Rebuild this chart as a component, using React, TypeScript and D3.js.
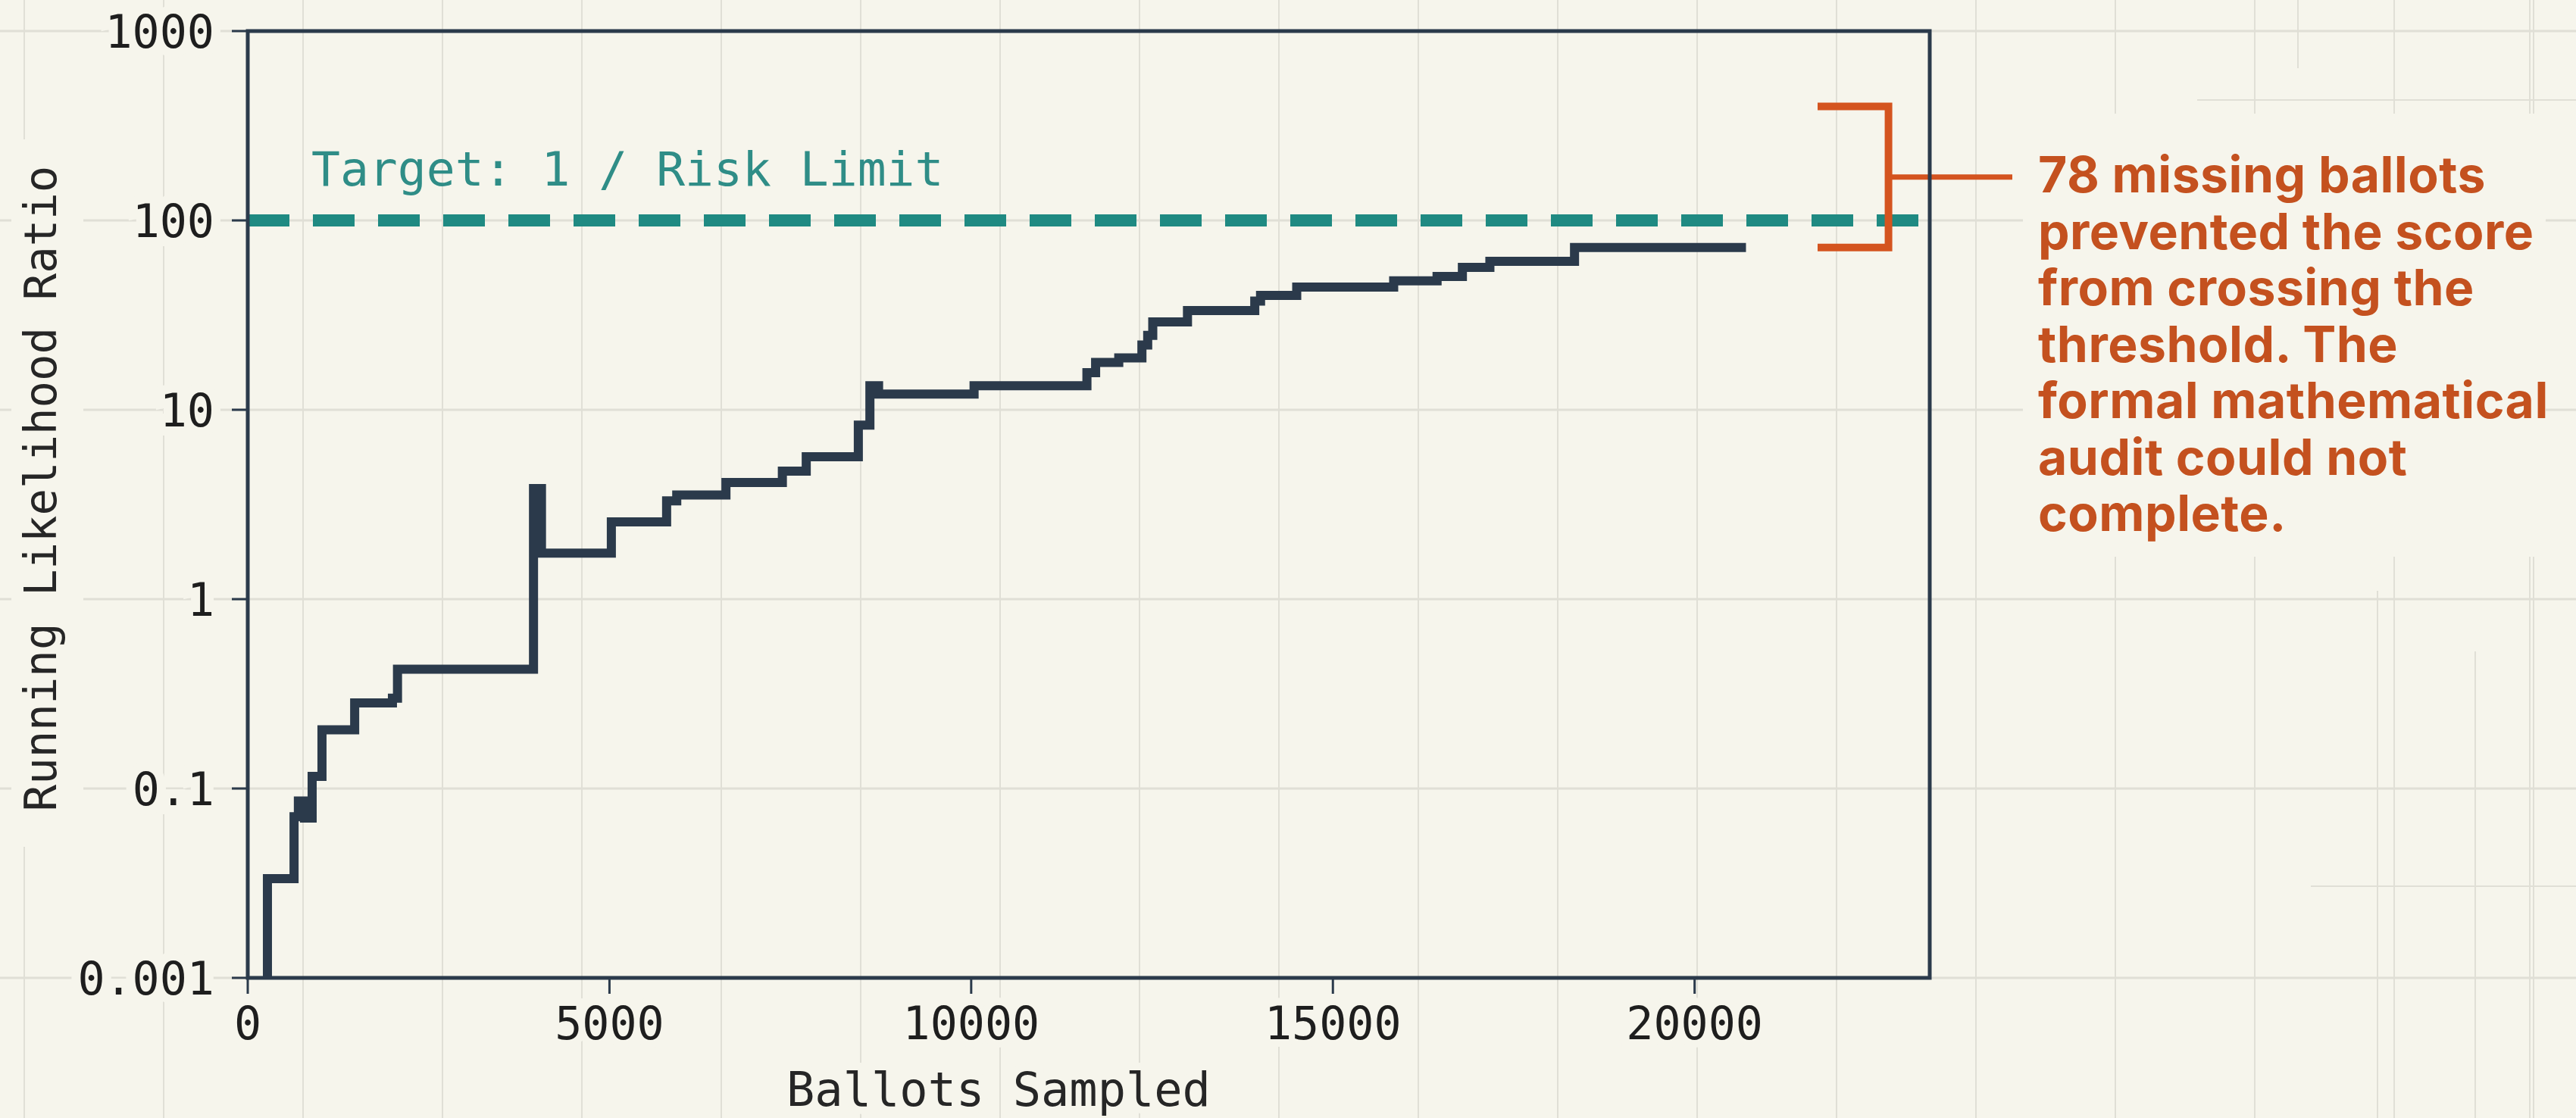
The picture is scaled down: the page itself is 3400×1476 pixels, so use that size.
import * as d3 from "d3";

// running likelihood ratio (value holds from that ballot on)
const ballots = [272, 272, 640, 700, 785, 890, 1026, 1478, 2000, 2070, 3950, 4060, 5026, 5790, 5930, 6610, 7390, 7720, 8440, 8600, 8720, 10040, 11600, 11720, 12040, 12360, 12440, 12510, 12990, 13920, 14000, 14500, 15840, 16440, 16790, 17170, 18340, 20710];
const ratio = [0.01, 0.0334, 0.071, 0.086, 0.0698, 0.116, 0.204, 0.283, 0.3, 0.427, 3.84, 1.75, 2.56, 3.3, 3.55, 4.13, 4.74, 5.65, 8.3, 13.4, 12.1, 13.4, 15.7, 17.8, 18.8, 22, 24.7, 29.1, 33.4, 37.5, 40.2, 44.5, 48, 50.6, 56.5, 60.8, 71.9, 71.9];

const yTickValues = [0.01, 0.1, 1, 10, 100, 1000];
const yTickLabels = ["0.001", "0.1", "1", "10", "100", "1000"];
const xTickValues = [0, 5000, 10000, 15000, 20000];

const targetRatio = 100;
const targetLabel = "Target: 1 / Risk Limit";
const bracketRatios = [71.9, 400];
const bracketBallots = [21700, 22680];
const noteLines = [
  "78 missing ballots",
  "prevented the score",
  "from crossing the",
  "threshold. The",
  "formal mathematical",
  "audit could not",
  "complete.",
];

const width = 3400;
const height = 1476;
const frame = { left: 327, right: 2547, top: 41, bottom: 1291 };
const bg = "#f6f5ec";
const ink = "#2b3a4b";
const teal = "#1f8a82";
const orange = "#d4541f";
const mono = "'DejaVu Sans Mono', 'Liberation Mono', monospace";

export default function App() {
  const x = d3.scaleLinear().domain([0, 23250]).range([frame.left, frame.right]);
  const y = d3.scaleLog().domain([0.01, 1000]).range([frame.bottom, frame.top]);

  const points = ballots.map((b, i) => [b, ratio[i]] as [number, number]);
  const path = d3
    .line<[number, number]>()
    .x((d) => x(d[0]))
    .y((d) => y(d[1]))
    .curve(d3.curveStepAfter)(points);

  const gridX = d3.range(32, width, 184);
  const bx0 = x(bracketBallots[0]);
  const bx1 = x(bracketBallots[1]);
  const byTop = y(bracketRatios[1]);
  const byBot = y(bracketRatios[0]);
  const byMid = (byTop + byBot) / 2;
  const noteX = 2690;

  return (
    <svg width={width} height={height} style={{ position: "absolute", left: 0, top: 0, display: "block" }}>
      <rect width={width} height={height} fill={bg} />

      {/* graph-paper background */}
      <g stroke="#e0dfd6" strokeWidth={2}>
        {gridX.map((gx) => (
          <line key={`gx-${gx}`} x1={gx} x2={gx} y1={0} y2={height} />
        ))}
        {yTickValues.map((t) => (
          <line key={`gy-${t}`} x1={0} x2={width} y1={y(t)} y2={y(t)} strokeWidth={3} />
        ))}
        <line x1={3033} x2={3033} y1={0} y2={90} />
        <line x1={3138} x2={3138} y1={780} y2={height} />
        <line x1={3267} x2={3267} y1={860} y2={height} />
        <line x1={3339} x2={3339} y1={0} y2={height} />
        <line x1={2900} x2={width} y1={132} y2={132} />
        <line x1={3050} x2={width} y1={1170} y2={1170} />
      </g>

      {/* masks behind outside labels */}
      <rect x={15} y={184} width={95} height={934} fill={bg} />
      <rect x={2670} y={150} width={690} height={585} fill={bg} />

      {/* target line */}
      <line x1={frame.left} x2={frame.right} y1={y(targetRatio)} y2={y(targetRatio)} stroke={teal} strokeWidth={16} strokeDasharray="55 31" />
      <text x={411} y={245} fontFamily={mono} fontSize={63} fill="#2f8d87">
        {targetLabel}
      </text>

      {/* annotation bracket */}
      <path d={`M${bx0},${byTop}H${bx1}V${byBot}H${bx0}`} fill="none" stroke={orange} strokeWidth={10} />
      <line x1={bx1} x2={2656} y1={byMid} y2={byMid} stroke={orange} strokeWidth={7} />

      {/* frame */}
      <rect x={frame.left} y={frame.top} width={frame.right - frame.left} height={frame.bottom - frame.top} fill="none" stroke={ink} strokeWidth={5} />

      {/* y axis */}
      {yTickValues.map((t, i) => (
        <g key={`yt-${t}`} transform={`translate(0, ${y(t)})`}>
          <line x1={frame.left - 21} x2={frame.left} stroke={ink} strokeWidth={3} />
          <text x={283} dy="0.36em" textAnchor="end" fontFamily={mono} fontSize={60} fill="#1e1e1e" stroke={bg} strokeWidth={24} paintOrder="stroke">
            {yTickLabels[i]}
          </text>
        </g>
      ))}

      {/* x axis */}
      {xTickValues.map((t) => (
        <g key={`xt-${t}`} transform={`translate(${x(t)}, 0)`}>
          <line y1={frame.bottom} y2={frame.bottom + 21} stroke={ink} strokeWidth={3} />
          <text y={1372} textAnchor="middle" fontFamily={mono} fontSize={60} fill="#1e1e1e" stroke={bg} strokeWidth={20} paintOrder="stroke">
            {t}
          </text>
        </g>
      ))}

      <text x={1318} y={1460} textAnchor="middle" fontFamily={mono} fontSize={62} fill="#262626" stroke={bg} strokeWidth={20} paintOrder="stroke">
        Ballots Sampled
      </text>
      <text transform="translate(74, 645) rotate(-90)" textAnchor="middle" fontFamily={mono} fontSize={59} fill="#262626">
        Running Likelihood Ratio
      </text>

      {/* running ratio */}
      <path d={path ?? ""} fill="none" stroke={ink} strokeWidth={12} strokeLinejoin="miter" strokeLinecap="butt" />

      {/* note */}
      <text fontFamily="Inter, 'Noto Sans', sans-serif" fontWeight={700} fontSize={66} letterSpacing={0.5} fill="#c4511f">
        {noteLines.map((line, i) => (
          <tspan key={line} x={noteX} y={254 + i * 74.5}>
            {line}
          </tspan>
        ))}
      </text>
    </svg>
  );
}
